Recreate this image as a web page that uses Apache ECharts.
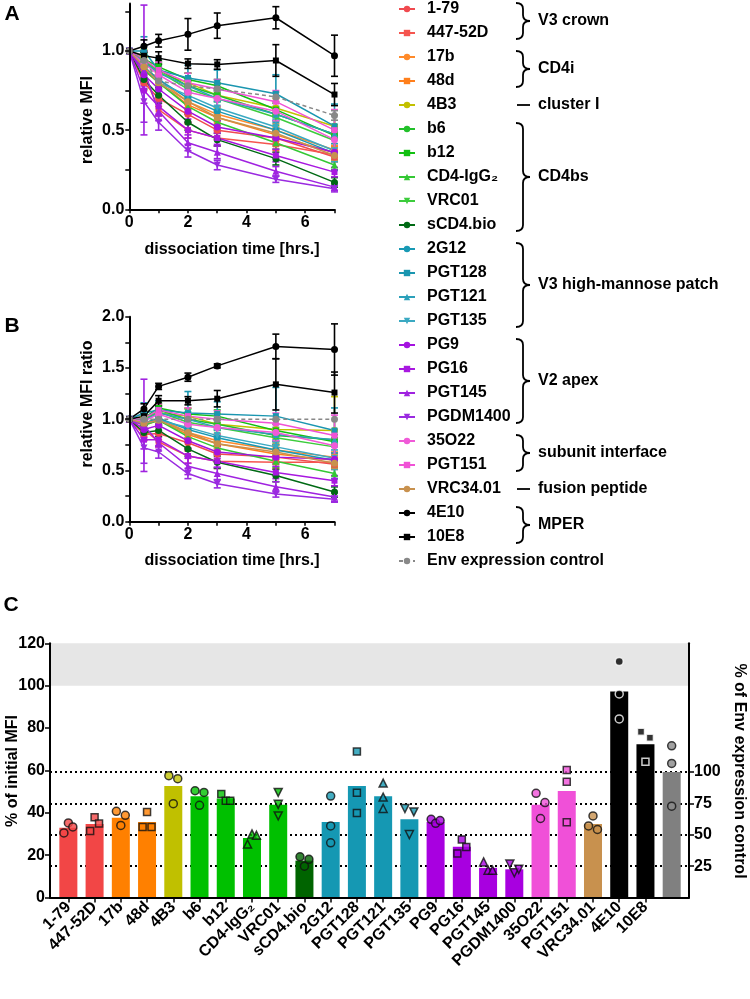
<!DOCTYPE html>
<html><head><meta charset="utf-8">
<script src="https://cdn.jsdelivr.net/npm/echarts@6/dist/echarts.min.js"></script>
<style>html,body{margin:0;padding:0;background:#fff}#c{width:750px;height:999px}</style>
</head><body><div id="c"></div>
<script>
// ---------------- DATA ----------------
const antibodies = ['1-79','447-52D','17b','48d','4B3','b6','b12','CD4-IgG₂','VRC01','sCD4.bio',
  '2G12','PGT128','PGT121','PGT135','PG9','PG16','PGT145','PGDM1400','35O22','PGT151','VRC34.01',
  '4E10','10E8','Env expression control'];
const timeHrs = [0, 0.5, 1, 2, 3, 5, 7];
// Panel A: relative MFI (mean) per antibody, at timeHrs
const relMFI = [
  [1, .80, .70, .60, .50, .45, .33],
  [1, .85, .63, .50, .45, .41, .345],
  [1, .90, .82, .68, .60, .50, .375],
  [1, .88, .80, .66, .58, .47, .355],
  [1, .96, .86, .80, .72, .64, .525],
  [1, .93, .88, .78, .72, .60, .475],
  [1, .95, .90, .82, .78, .63, .465],
  [1, .88, .80, .65, .55, .42, .28],
  [1, .94, .87, .76, .70, .58, .435],
  [1, .82, .72, .55, .44, .32, .17],
  [1, .90, .82, .70, .62, .50, .355],
  [1, 1.00, .88, .83, .80, .73, .525],
  [1, .93, .86, .78, .70, .60, .475],
  [1, .90, .80, .72, .64, .52, .37],
  [1, .85, .76, .62, .52, .45, .36],
  [1, .75, .65, .50, .45, .34, .235],
  [1, .88, .62, .42, .36, .24, .14],
  [1, .68, .55, .37, .28, .19, .13],
  [1, .92, .85, .74, .70, .62, .44],
  [1, .95, .88, .80, .76, .68, .50],
  [1, .90, .80, .68, .58, .48, .34],
  [1, 1.03, 1.065, 1.105, 1.16, 1.21, .97],
  [1, .97, .955, .92, .915, .94, .725],
  [1, .94, .81, .78, .76, .71, .593]
];
const relMFIerr = [
  [0,.05,.05,.06,.06,.05,.03],
  [0,.06,.04,.05,.05,.04,.03],
  [0,.04,.05,.05,.05,.04,.03],
  [0,.05,.05,.05,.05,.04,.04],
  [0,.05,.06,.06,.08,.06,.07],
  [0,.04,.05,.04,.04,.04,.03],
  [0,.04,.04,.04,.04,.04,.02],
  [0,.05,.04,.04,.04,.04,.03],
  [0,.04,.05,.05,.05,.05,.06],
  [0,.06,.05,.05,.04,.04,.03],
  [0,.07,.06,.06,.06,.06,.11],
  [0,.09,.07,.08,.08,.12,.14],
  [0,.06,.05,.05,.05,.05,.06],
  [0,.06,.05,.05,.05,.05,.07],
  [0,.07,.05,.05,.04,.04,.01],
  [0,.08,.06,.05,.04,.04,.03],
  [0,.41,.06,.05,.04,.03,.02],
  [0,.13,.05,.04,.03,.02,.02],
  [0,.05,.05,.05,.05,.06,.06],
  [0,.05,.05,.06,.06,.07,.13],
  [0,.04,.04,.04,.04,.04,.03],
  [0,.04,.04,.10,.08,.07,.13],
  [0,.03,.04,.03,.03,.10,.07],
  [0,.03,.03,.03,.03,.03,.03]
];
// Panel B: relative MFI ratio (normalised to Env expression control)
const relRatio = [
  [1, .85, .86, .77, .66, .63, .56],
  [1, .90, .78, .64, .59, .58, .58],
  [1, .96, 1.01, .87, .79, .70, .63],
  [1, .94, .99, .85, .76, .66, .60],
  [1, 1.02, 1.06, 1.03, .95, .90, .89],
  [1, .99, 1.09, 1.00, .95, .84, .80],
  [1, 1.01, 1.11, 1.05, 1.03, .89, .78],
  [1, .94, .99, .83, .72, .59, .47],
  [1, 1.00, 1.07, .97, .92, .82, .73],
  [1, .87, .89, .71, .58, .45, .29],
  [1, .96, 1.01, .90, .82, .70, .60],
  [1, 1.06, 1.09, 1.06, 1.05, 1.03, .89],
  [1, .99, 1.06, 1.00, .92, .85, .80],
  [1, .96, .99, .92, .84, .73, .62],
  [1, .90, .94, .79, .68, .63, .61],
  [1, .80, .80, .64, .59, .48, .40],
  [1, .94, .77, .54, .47, .34, .24],
  [1, .72, .68, .47, .37, .27, .22],
  [1, .98, 1.05, .95, .92, .87, .74],
  [1, 1.01, 1.09, 1.03, 1.00, .96, .84],
  [1, .96, .99, .87, .76, .68, .57],
  [1, 1.10, 1.32, 1.41, 1.52, 1.71, 1.68],
  [1, 1.03, 1.18, 1.18, 1.20, 1.34, 1.26],
  [1, 1, 1, 1, 1, 1, 1]
];
const relRatioErr = [
  [0,.06,.06,.08,.08,.07,.05],
  [0,.07,.05,.07,.07,.06,.05],
  [0,.05,.06,.07,.07,.06,.05],
  [0,.06,.06,.07,.07,.06,.06],
  [0,.06,.08,.08,.11,.09,.33],
  [0,.05,.06,.05,.06,.06,.05],
  [0,.05,.05,.05,.06,.06,.04],
  [0,.06,.05,.05,.06,.06,.05],
  [0,.05,.06,.07,.07,.07,.09],
  [0,.07,.06,.07,.06,.06,.05],
  [0,.08,.07,.08,.08,.09,.18],
  [0,.10,.09,.21,.12,.28,.22],
  [0,.07,.06,.07,.07,.07,.10],
  [0,.07,.06,.07,.07,.07,.11],
  [0,.08,.06,.07,.06,.06,.03],
  [0,.09,.07,.07,.06,.06,.05],
  [0,.45,.08,.08,.06,.05,.04],
  [0,.15,.06,.05,.04,.03,.03],
  [0,.06,.06,.07,.07,.08,.10],
  [0,.06,.06,.08,.08,.10,.20],
  [0,.05,.05,.05,.05,.06,.05],
  [0,.05,.03,.04,.02,.12,.25],
  [0,.04,.05,.04,.08,.25,.20],
  [0,0,0,0,0,0,0]
];
// Panel C: % of initial MFI (bar = mean) and the three replicates
const pctInitial = [32.9, 34.7, 37.7, 35.7, 52.6, 47.8, 46.7, 28.1, 43.8, 17.4, 35.7, 52.6, 47.8, 36.9,
  35.7, 23.9, 14.0, 13.3, 43.8, 50.3, 34.7, 97.2, 72.4, 59.3];
const replicates = [
  [30.5, 35.2, 33.3], [31.4, 37.9, 34.9], [40.7, 34.0, 38.8], [33.3, 40.4, 33.3],
  [57.5, 44.3, 56.1], [50.4, 43.5, 49.6], [48.9, 45.7, 45.7], [25.2, 30.0, 29.4],
  [49.6, 44.0, 38.5], [19.2, 14.8, 18.0], [47.9, 33.8, 25.8], [68.9, 49.5, 39.9],
  [54.0, 47.4, 42.0], [42.0, 29.7, 40.4], [36.9, 35.0, 36.3], [20.8, 27.4, 23.8],
  [16.8, 12.9, 12.9], [15.8, 11.7, 13.3], [49.2, 37.3, 44.8], [60.2, 54.7, 35.5],
  [33.8, 38.5, 32.1], [111.4, 96.1, 84.3], [78.2, 64.1, 75.4], [71.6, 63.3, 43.1]
];
const envScaleTicks = [25, 50, 75, 100];
const envControlPct = pctInitial[23];
const groups = [
  ['V3 crown', 0, 1], ['CD4i', 2, 3], ['cluster I', 4, 4], ['CD4bs', 5, 9],
  ['V3 high-mannose patch', 10, 13], ['V2 apex', 14, 17], ['subunit interface', 18, 19],
  ['fusion peptide', 20, 20], ['MPER', 21, 22]
];

// ---------------- STYLE ----------------
const FONT = 'Liberation Sans, Arial, Helvetica, sans-serif';
const lineColors = ['#f04a4f','#f5554f','#ff8a2a','#ff7f1c','#c2c000','#22c02a','#12c012','#34c834',
  '#3ccc3c','#006a14','#1899b4','#1a96b0','#2ba0ba','#3aa9c2','#a412e0','#a818e0','#a022e0','#9a2ae0',
  '#f05ad8','#f052d6','#c8914e','#000000','#000000','#888888'];
const barColors = ['#f24646','#f24646','#ff8000','#ff8000','#c0c000','#00c000','#00c000','#00c000',
  '#00c000','#006400','#1598b3','#1598b3','#1598b3','#1598b3','#a800e0','#a800e0','#a800e0','#a800e0',
  '#f050d8','#f050d8','#c8914e','#000000','#000000','#808080'];
const symbols = ['circle','rect','circle','rect','circle','circle','rect','triangle','down','circle',
  'circle','rect','triangle','down','circle','rect','triangle','down','circle','rect','circle','circle','rect','circle'];
const spread = [1,1,1,1,1,1,1,1,0,1,0,0,0,1,1,1,1,1,1,0,1,0,1,0];
const JITTER = [-0.17, 0, 0.17];

const sym = s => s === 'down' ? 'triangle' : s;
const rot = s => s === 'down' ? 180 : 0;

const boldText = (size) => ({ fontFamily: FONT, fontWeight: 'bold', fontSize: size, color: '#000' });
const axisLineStyle = () => ({ show: true, onZero: false, lineStyle: { color: '#000', width: 2 } });
const tickStyle = (len, vals) => {
  const t = { show: true, length: len, lineStyle: { width: 1.5, color: '#000' } };
  if (vals) t.customValues = vals;
  return t;
};

function timeXAxis(gi) {
  return {
    type: 'value', gridIndex: gi, min: 0, max: 7, position: 'bottom', z: 10,
    axisLine: axisLineStyle(),
    axisTick: tickStyle(4, [0,1,2,3,4,5,6,7]),
    axisLabel: Object.assign(boldText(16), { margin: 5, customValues: [0,2,4,6] }),
    splitLine: { show: false }
  };
}

function errRender(ci) {
  return function (params, api) {
    const t = api.value(0), v = api.value(1), e = api.value(2);
    const a = api.coord([t, v + e]), b = api.coord([t, v - e]);
    const st = { stroke: lineColors[ci], lineWidth: 1.6 };
    return { type: 'group', children: [
      { type: 'line', shape: { x1: a[0], y1: a[1], x2: b[0], y2: b[1] }, style: st },
      { type: 'line', shape: { x1: a[0] - 3.5, y1: a[1], x2: a[0] + 3.5, y2: a[1] }, style: st },
      { type: 'line', shape: { x1: b[0] - 3.5, y1: b[1], x2: b[0] + 3.5, y2: b[1] }, style: st }
    ]};
  };
}

const series = [];
[[relMFI, relMFIerr], [relRatio, relRatioErr]].forEach(([vals, errs], p) => {
  antibodies.forEach((name, i) => {
    const ed = [];
    timeHrs.forEach((t, k) => { if (errs[i][k] > 0) ed.push([t, vals[i][k], errs[i][k]]); });
    series.push({
      type: 'custom', xAxisIndex: p, yAxisIndex: p, data: ed, renderItem: errRender(i),
      silent: true, z: 2, clip: false
    });
    series.push({
      type: 'line', name: name, xAxisIndex: p, yAxisIndex: p,
      data: timeHrs.map((t, k) => [t, vals[i][k]]),
      symbol: sym(symbols[i]), symbolRotate: rot(symbols[i]),
      symbolSize: symbols[i] === 'rect' ? 6 : 7,
      color: lineColors[i],
      itemStyle: { color: lineColors[i] },
      lineStyle: { width: 1.5, color: lineColors[i], type: i === 23 ? [4, 3] : 'solid' },
      z: 3, silent: true
    });
  });
});

// Panel C
const rightMax = 120 * 100 / envControlPct;
series.push({
  type: 'line', xAxisIndex: 2, yAxisIndex: 3, data: [], silent: true,
  markLine: {
    z: 1, silent: true, symbol: 'none', label: { show: false },
    lineStyle: { type: [2, 3], color: '#000', width: 1.8 },
    data: envScaleTicks.map(v => ({ yAxis: v }))
  }
});
series.push({
  type: 'bar', xAxisIndex: 2, yAxisIndex: 2, barWidth: 18, z: 2, silent: true,
  data: pctInitial.map((v, i) => ({ value: [i, v], itemStyle: { color: barColors[i] } })),
  markArea: { z: 0, silent: true, itemStyle: { color: '#e6e6e6' }, data: [[{ yAxis: 100 }, { yAxis: 120 }]] }
});
const pts = [];
replicates.forEach((row, i) => {
  row.forEach((v, r) => {
    const dark = i === 21 || i === 22;
    pts.push({
      value: [i + (spread[i] ? JITTER[r] : 0), v],
      symbol: sym(symbols[i]), symbolRotate: rot(symbols[i]),
      symbolSize: symbols[i] === 'rect' ? 7 : 8,
      itemStyle: {
        color: dark ? '#000' : (i === 23 ? '#8a8a8a' : barColors[i]),
        borderColor: dark ? '#fff' : '#111', borderWidth: 1.5
      }
    });
  });
});
series.push({ type: 'scatter', xAxisIndex: 2, yAxisIndex: 2, data: pts, z: 4, silent: true });

const catLabels = antibodies.map(n => n === 'Env expression control' ? 'Env expression\ncontrol' : n);

// graphic annotations
const rowY = i => 9 + 24 * i;
const graphics = [];
const braceStyle = { stroke: '#000', lineWidth: 1.8, fill: null };
function addText(text, x, y, size, rotation, align) {
  graphics.push({ type: 'text', x: x, y: y, rotation: rotation || 0, silent: true,
    style: { text: text, font: 'bold ' + size + 'px ' + FONT, fill: '#000',
      align: align || 'center', verticalAlign: 'middle' } });
}
function seg(x1, y1, x2, y2) {
  graphics.push({ type: 'line', silent: true, shape: { x1, y1, x2, y2 }, style: braceStyle });
}
function curve(x1, y1, cx, cy, x2, y2) {
  graphics.push({ type: 'bezierCurve', silent: true, shape: { x1, y1, x2, y2, cpx1: cx, cpy1: cy }, style: braceStyle });
}
addText('A', 12, 14, 21); addText('B', 12, 326, 21); addText('C', 11, 605, 21);
addText('relative MFI', 88, 120, 16, Math.PI / 2);
addText('dissociation time [hrs.]', 232, 250, 16);
addText('relative MFI ratio', 88, 404, 16, Math.PI / 2);
addText('dissociation time [hrs.]', 232, 561, 16);
addText('% of initial MFI', 13, 771, 16, Math.PI / 2);
addText('% of Env expression control', 739, 771, 16, -Math.PI / 2);
groups.forEach(([label, a, b]) => {
  const x0 = 516, xs = 523, xt = 530, r = 6;
  if (a === b) {
    const y = rowY(a);
    seg(517, y, 530, y);
    addText(label, 538, y, 16, 0, 'left');
  } else {
    const top = rowY(a) - 6, bot = rowY(b) + 6, mid = (top + bot) / 2;
    curve(x0, top, xs, top, xs, top + r);
    seg(xs, top + r, xs, mid - r);
    curve(xs, mid - r, xs, mid, xt, mid);
    curve(xt, mid, xs, mid, xs, mid + r);
    seg(xs, mid + r, xs, bot - r);
    curve(xs, bot - r, xs, bot, x0, bot);
    addText(label, 538, mid, 16, 0, 'left');
  }
});

const option = {
  animation: false,
  backgroundColor: '#fff',
  textStyle: { fontFamily: FONT },
  grid: [
    { left: 129.3, top: 3.5, width: 205.2, height: 205.8 },
    { left: 129.3, top: 316.7, width: 205.2, height: 205 },
    { left: 50, top: 643.3, width: 639, height: 254.2 }
  ],
  xAxis: [
    timeXAxis(0), timeXAxis(1),
    {
      type: 'value', gridIndex: 2, min: -0.7, max: 23.66, position: 'bottom', z: 10,
      axisLine: axisLineStyle(),
      axisTick: tickStyle(5, antibodies.map((_, i) => i)),
      axisLabel: Object.assign(boldText(16), { rotate: 45, margin: 7, customValues: antibodies.map((_, i) => i),
        formatter: v => catLabels[Math.round(v)] }),
      splitLine: { show: false }
    }
  ],
  yAxis: [
    {
      type: 'value', gridIndex: 0, min: 0, max: 1.3, position: 'left', z: 10,
      axisLine: axisLineStyle(),
      axisTick: tickStyle(4, [0, .25, .5, .75, 1, 1.25]),
      axisLabel: Object.assign(boldText(16), { margin: 5, customValues: [0, .5, 1], formatter: v => v.toFixed(1) }),
      splitLine: { show: false }
    },
    {
      type: 'value', gridIndex: 1, min: 0, max: 2, position: 'left', z: 10,
      axisLine: axisLineStyle(),
      axisTick: tickStyle(4, [0, .25, .5, .75, 1, 1.25, 1.5, 1.75, 2]),
      axisLabel: Object.assign(boldText(16), { margin: 5, customValues: [0, .5, 1, 1.5, 2], formatter: v => v.toFixed(1) }),
      splitLine: { show: false }
    },
    {
      type: 'value', gridIndex: 2, min: 0, max: 120, interval: 20, position: 'left', z: 10,
      axisLine: axisLineStyle(),
      axisTick: tickStyle(5),
      axisLabel: Object.assign(boldText(16), { margin: 5 }),
      splitLine: { show: false }
    },
    {
      type: 'value', gridIndex: 2, position: 'right', min: 0, max: rightMax, z: 10,
      axisLine: axisLineStyle(),
      axisTick: tickStyle(5, envScaleTicks),
      axisLabel: Object.assign(boldText(16), { margin: 5, customValues: envScaleTicks, formatter: v => String(Math.round(v)) }),
      splitLine: { show: false }
    }
  ],
  legend: {
    orient: 'vertical', left: 398, top: 1, padding: 0,
    itemWidth: 16, itemHeight: 8, itemGap: 8, selectedMode: false,
    data: antibodies,
    textStyle: Object.assign(boldText(16), { lineHeight: 16, padding: [0, 0, 0, 7] })
  },
  graphic: graphics,
  series: series
};

const chart = echarts.init(document.getElementById('c'), null, { renderer: 'canvas' });
chart.setOption(option);
</script></body></html>
